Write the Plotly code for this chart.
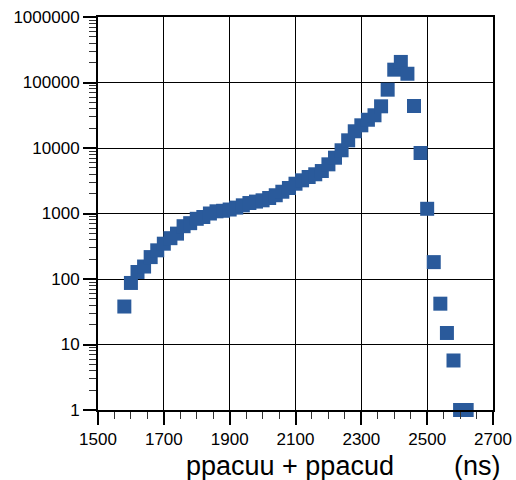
import plotly.graph_objects as go

# Data (time bins in ns, counts)
time_ns = [1580, 1600, 1620, 1640, 1660, 1680, 1700, 1720, 1740, 1760,
           1780, 1800, 1820, 1840, 1860, 1880, 1900, 1920, 1940, 1960,
           1980, 2000, 2020, 2040, 2060, 2080, 2100, 2120, 2140, 2160,
           2180, 2200, 2220, 2240, 2260, 2280, 2300, 2320, 2340, 2360,
           2380, 2400, 2420, 2440, 2460, 2480, 2500, 2520, 2540, 2560,
           2580, 2600, 2620]
counts = [38, 87, 128, 155, 216, 274, 346, 420, 493, 640,
          712, 830, 885, 1000, 1080, 1100, 1150, 1230, 1333, 1445,
          1520, 1590, 1725, 1900, 2150, 2450, 2850, 3210, 3610, 3970,
          4450, 5630, 7110, 9230, 13100, 18000, 22200, 27000, 31600, 43300,
          77700, 157000, 206000, 136000, 43800, 8390, 1180, 181, 42, 15,
          5.7, 1, 1]

y_tickvals = [1, 10, 100, 1000, 10000, 100000, 1000000]
y_ticktext = ["1", "10", "100", "1000", "10000", "100000", "1000000"]
x_tickvals = [1500, 1700, 1900, 2100, 2300, 2500, 2700]

x_title = "ppacuu + ppacud"
x_unit = "(ns)"

FONT = "Liberation Sans, Arial, sans-serif"

fig = go.Figure()
fig.add_trace(go.Scatter(
    x=time_ns, y=counts, mode="markers",
    marker=dict(symbol="square", size=14, color="#2A5A9B", line=dict(width=0)),
    cliponaxis=False, showlegend=False,
))

fig.update_layout(
    width=516, height=480,
    margin=dict(l=98, r=23, t=17, b=70, autoexpand=False),
    paper_bgcolor="white", plot_bgcolor="white",
    font=dict(family=FONT, color="black", size=17),
    xaxis=dict(
        range=[1500, 2700], tickvals=x_tickvals, automargin=False,
        ticks="outside", ticklen=13, tickwidth=1.5, tickcolor="black",
        showline=True, linewidth=2, linecolor="black", mirror=True,
        showgrid=True, gridcolor="black", gridwidth=1,
        zeroline=False,
        tickfont=dict(size=17, family=FONT),
        minor=dict(dtick=50, tick0=1500, ticks="outside", ticklen=7,
                   tickwidth=1, tickcolor="#333", showgrid=False),
    ),
    yaxis=dict(
        type="log", range=[0, 6], automargin=False,
        tickvals=y_tickvals, ticktext=y_ticktext,
        ticks="outside", ticklen=13, tickwidth=1.5, tickcolor="black",
        showline=True, linewidth=2, linecolor="black", mirror=True,
        showgrid=True, gridcolor="black", gridwidth=1,
        zeroline=False,
        tickfont=dict(size=17, family=FONT),
        minor=dict(ticks="outside", ticklen=7, tickwidth=1,
                   tickcolor="#333", showgrid=False, dtick="D1"),
    ),
    annotations=[
        dict(text=x_title, xref="paper", yref="paper", x=0.485, y=0,
             xanchor="center", yanchor="middle", yshift=-56, showarrow=False,
             font=dict(size=27, family=FONT, color="black")),
        dict(text=x_unit, xref="paper", yref="paper", x=1.0, y=0,
             xanchor="center", yanchor="middle", yshift=-56, xshift=-16,
             showarrow=False,
             font=dict(size=27, family=FONT, color="black")),
    ],
)

fig.write_html("out.html")
